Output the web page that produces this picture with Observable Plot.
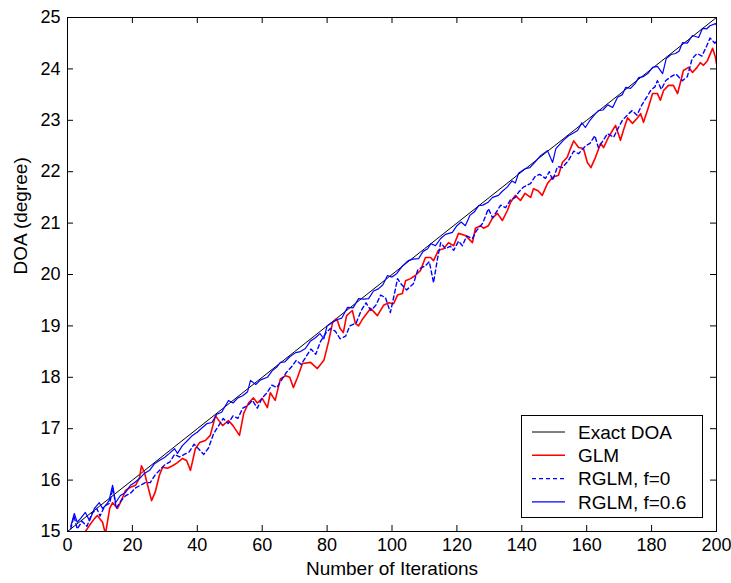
<!DOCTYPE html>
<html>
<head>
<meta charset="utf-8">
<script src="https://cdn.jsdelivr.net/npm/d3@7"></script>
<script src="https://cdn.jsdelivr.net/npm/@observablehq/plot@0.6"></script>
<style>
  html, body { margin: 0; padding: 0; background: #fff; }
  #chart { position: relative; width: 731px; height: 583px; font-family: "Liberation Sans", Arial, sans-serif; }
  #legend { position: absolute; left: 521px; top: 415px; }
</style>
</head>
<body>
<div id="chart"></div>
<script>
// ---------- data ----------
const xTicks = [0, 20, 40, 60, 80, 100, 120, 140, 160, 180, 200];
const yTicks = [15, 16, 17, 18, 19, 20, 21, 22, 23, 24, 25];

const seriesNames = ["Exact DOA", "GLM", "RGLM, f=0", "RGLM, f=0.6"];

const exactIter = [0, 10, 20, 30, 40, 50, 60, 70, 80, 90, 100, 110, 120, 130, 140, 150, 160, 170, 180, 190, 200];
const exactDoa  = [15, 15.5, 16, 16.5, 17, 17.5, 18, 18.5, 19, 19.5, 20, 20.5, 21, 21.5, 22, 22.5, 23, 23.5, 24, 24.5, 25];

const glmIter = [
  4, 5.5, 6.8, 8.3, 9.2, 10.8, 11.7, 13, 13.9, 15.4,
  16.3, 17.9, 19.4, 21, 22.2, 22.8, 23.7, 24.7, 25.9, 27,
  28.3, 29.3, 30.8, 32.4, 33.9, 35.4, 36.7, 37.9, 39.4, 40.7,
  42.5, 44, 45.6, 47.8, 49.6, 51, 53, 54.3, 55.8, 57.3,
  58.5, 60, 61.6, 62.5, 64, 65.6, 67.2, 68.5, 69.6, 70.9,
  72.4, 74.9, 77, 79, 80.4, 81.7, 83, 84, 85, 86,
  87.8, 88.7, 89.7, 91, 93.4, 95.5, 97.4, 99, 100.5, 101.7,
  103.2, 104.2, 105.7, 107.2, 108.8, 110.3, 111.9, 112.8, 114.3, 115.9,
  117.4, 119, 120.5, 122.6, 124.8, 125.7, 127.3, 128.2, 129.7, 131,
  132.5, 134, 135.6, 136.5, 138, 139.6, 141, 142.7, 143.6, 145,
  146.3, 147.9, 149.5, 151.3, 152.5, 154, 155, 156, 157.5, 159,
  160.2, 161.3, 162.7, 164.3, 165.2, 166.7, 168.9, 170.4, 171.3, 172.6,
  174.1, 175.7, 176.6, 177.5, 179, 180.3, 181.8, 182.7, 183.7, 185.2,
  186.7, 188, 188.9, 189.8, 191.4, 192.6, 194, 195, 196, 197.2,
  198.8, 199.7, 200];
const glmDoa = [
  14.85, 15.0, 15.12, 15.25, 15.31, 15.18, 14.95, 15.45, 15.56, 15.45,
  15.56, 15.8, 15.86, 15.9, 16.05, 16.28, 16.15, 15.9, 15.6, 15.76,
  16.09, 16.25, 16.23, 16.28, 16.34, 16.42, 16.38, 16.19, 16.61, 16.73,
  16.77, 16.87, 17.25, 17.06, 17.16, 17.06, 16.87, 17.3, 17.5, 17.6,
  17.5, 17.59, 17.41, 17.7, 17.55, 17.97, 18.03, 18.0, 17.8, 18.0,
  18.27, 18.29, 18.17, 18.33, 18.68, 19.07, 19.14, 18.95, 18.87, 19.2,
  19.3, 19.05, 19.0, 19.14, 19.34, 19.2, 19.4, 19.45, 19.43, 19.6,
  19.63, 19.88, 19.92, 19.98, 20.08, 20.33, 20.33, 20.27, 20.47, 20.5,
  20.62, 20.56, 20.8, 20.76, 20.62, 20.9, 20.95, 20.9, 20.95, 21.1,
  21.19, 21.05, 21.25, 21.4, 21.54, 21.44, 21.58, 21.5, 21.67, 21.63,
  21.54, 21.77, 21.89, 21.93, 22.18, 22.28, 22.45, 22.6, 22.47, 22.45,
  22.18, 22.08, 22.28, 22.55, 22.47, 22.67, 22.9, 22.61, 22.8, 23.05,
  22.94, 23.05, 23.13, 22.96, 23.25, 23.52, 23.52, 23.39, 23.58, 23.68,
  23.68, 23.52, 23.74, 23.97, 24.03, 23.93, 24.03, 24.12, 24.07, 24.16,
  24.4, 24.22, 24.1];

const rglm0Iter = [
  1, 2, 3, 4.5, 6, 7.5, 9, 10, 11.5, 13,
  14, 15, 16.5, 18, 19.5, 21, 22.5, 24, 25.5, 27,
  28.5, 30, 31.5, 33, 34.5, 36, 37.5, 39, 40.5, 42,
  43.5, 45, 46.5, 48, 49.5, 51, 52.5, 54, 55.5, 57,
  58.5, 60, 61.5, 63, 64.5, 66, 67.5, 69, 70.5, 72,
  73.5, 75, 76.5, 78, 79.5, 81, 82.5, 84, 85.7, 87,
  89, 90.5, 92, 93.5, 95, 96.5, 98, 99.5, 101, 101.7,
  103, 104.5, 106.6, 108, 110.3, 111.5, 112.8, 114, 115, 116.5,
  118, 119, 120.5, 121.7, 123, 124.8, 126, 128, 129.7, 131,
  132, 133.5, 135, 136.5, 138, 139, 140.5, 142.7, 144, 145.5,
  147.3, 148.5, 149.5, 151, 152.5, 154.4, 156, 157.5, 159.6, 161,
  162.5, 163.6, 165, 166.4, 168.3, 169.8, 171, 172.5, 174, 175.5,
  177, 178.5, 179.7, 181, 181.8, 183, 184.3, 186, 187.5, 189.5,
  191, 192.5, 194, 195.5, 197, 198, 199.5, 200];
const rglm0Doa = [
  15.05, 15.3, 15.05, 15.2, 15.1, 15.35, 15.45, 15.3, 15.5, 15.55,
  15.85, 15.45, 15.6, 15.7, 15.75, 15.85, 15.9, 15.95, 15.95, 16.1,
  16.2, 16.3, 16.35, 16.5, 16.45, 16.5, 16.55, 16.7, 16.6, 16.5,
  16.63, 16.9, 17.05, 17.2, 17.1, 17.25, 17.2, 17.4, 17.45, 17.55,
  17.4, 17.6, 17.7, 17.85, 17.8, 17.95, 18.1, 18.2, 18.33, 18.25,
  18.4, 18.55, 18.45, 18.7, 18.85, 18.95, 18.9, 18.75, 18.8, 19.0,
  19.06, 19.3, 19.45, 19.3, 19.4, 19.6, 19.55, 19.26, 19.7, 19.92,
  19.8, 19.7, 19.82, 20.1, 20.17, 20.25, 19.84, 20.3, 20.62, 20.5,
  20.55, 20.47, 20.65, 20.56, 20.75, 20.7, 20.85, 21.0, 21.28, 21.1,
  21.2, 21.35, 21.3, 21.45, 21.5, 21.6, 21.7, 21.77, 21.9, 21.95,
  21.87, 22.0, 21.83, 22.1, 22.08, 22.22, 22.4, 22.35, 22.5, 22.55,
  22.7, 22.47, 22.6, 22.74, 22.67, 22.86, 23.0, 23.1, 23.19, 23.1,
  23.3, 23.45, 23.58, 23.65, 23.77, 23.6, 23.77, 23.85, 23.9, 23.77,
  23.85, 24.2, 24.3, 24.25, 24.45, 24.6, 24.5, 24.55];

const rglm06Iter = [
  1, 2.1, 3, 4, 5.5, 6.8, 8.3, 9.8, 10.8, 11.7,
  12.8, 13.9, 14.8, 16.3, 17.9, 19.4, 20.6, 22.2, 23.7, 25.3,
  26.8, 28.3, 29.9, 31.4, 33, 33.9, 35.4, 37, 38.5, 40,
  41.5, 43, 44.5, 46, 47.5, 49.6, 51, 52.5, 54, 55.5,
  56.4, 58, 59.5, 61.6, 63, 64.5, 65.6, 67, 68.5, 70.3,
  71.8, 73.3, 74.8, 76.4, 77.8, 79, 80, 81.7, 83, 84.5,
  86.3, 88, 89.7, 91.2, 92.8, 94.3, 95.8, 97.2, 98.6, 100,
  101.5, 103, 105, 106.5, 108.2, 109.6, 111, 112, 113.4, 115,
  116.5, 118.6, 120, 121.3, 122.6, 124, 125.4, 126.7, 128, 129.5,
  131, 132.8, 134, 135.5, 137, 138, 139, 141.1, 142.5, 144,
  145.8, 147.9, 149.5, 150.5, 152.8, 154.4, 155.8, 157.2, 158.5, 159.6,
  161, 162.3, 163.6, 165, 166.5, 168, 169.5, 171, 172, 173.5,
  175, 176, 177.5, 179, 180.3, 181.8, 183.4, 184.5, 186, 187.4,
  188.5, 189.5, 191, 192.6, 194.5, 195.7, 197, 198, 199.7, 200];
const rglm06Doa = [
  15.1, 15.35, 15.18, 15.25, 15.37, 15.21, 15.45, 15.56, 15.45, 15.5,
  15.6, 15.9, 15.56, 15.7, 15.76, 15.9, 15.95, 16.03, 16.13, 16.19,
  16.32, 16.38, 16.44, 16.52, 16.61, 16.52, 16.67, 16.77, 16.87, 16.93,
  17.02, 17.1, 17.12, 17.28, 17.32, 17.55, 17.5, 17.6, 17.64, 17.72,
  17.94, 17.86, 17.95, 18.0, 18.12, 18.2, 18.29, 18.3, 18.4, 18.48,
  18.5, 18.56, 18.7, 18.77, 18.85, 18.75, 19.0, 19.07, 19.12, 19.15,
  19.36, 19.35, 19.53, 19.52, 19.53, 19.68, 19.72, 19.8, 19.98, 19.95,
  20.02, 20.15, 20.27, 20.3, 20.31, 20.45, 20.5, 20.6, 20.56, 20.7,
  20.78, 20.82, 20.95, 21.02, 20.95, 21.15, 21.22, 21.34, 21.35, 21.4,
  21.5, 21.54, 21.62, 21.7, 21.82, 21.78, 21.97, 22.06, 22.08, 22.18,
  22.31, 22.41, 22.18, 22.45, 22.61, 22.7, 22.75, 22.8, 22.95, 22.86,
  23.0, 23.1, 23.19, 23.2, 23.3, 23.25, 23.45, 23.5, 23.64, 23.62,
  23.72, 23.83, 23.85, 23.92, 24.03, 24.05, 23.91, 24.2, 24.28, 24.3,
  24.35, 24.51, 24.5, 24.65, 24.61, 24.79, 24.78, 24.84, 24.88, 24.85];

// ---------- styles / layout ----------
const seriesStyles = [
  {stroke: "#000000", width: 1,   dash: null},
  {stroke: "#ff0000", width: 1.6, dash: null},
  {stroke: "#0000ff", width: 1.4, dash: "4,3"},
  {stroke: "#0000ff", width: 1.2, dash: null}
];
const W = 731, H = 583;
const mL = 67, mR = 15, mT = 17, mB = 52;
const frameW = W - mL - mR, frameH = H - mT - mB;
const tickLen = 6;
const fontFam = '"Liberation Sans", Arial, Helvetica, sans-serif';

const pts = (xs, ys) => xs.map((x, i) => ({x, y: ys[i]}));
const lineOf = (xs, ys, s) => Plot.line(pts(xs, ys), {
  x: "x", y: "y", stroke: s.stroke, strokeWidth: s.width,
  strokeDasharray: s.dash ?? undefined, clip: true, curve: "linear"
});

const chart = Plot.plot({
  width: W, height: H,
  marginLeft: mL, marginRight: mR, marginTop: mT, marginBottom: mB,
  style: {fontFamily: fontFam, fontSize: "18px", background: "#ffffff", color: "#000000", overflow: "visible"},
  x: {domain: [0, 200], label: null},
  y: {domain: [15, 25], label: null},
  marks: [
    lineOf(exactIter, exactDoa, seriesStyles[0]),
    lineOf(glmIter, glmDoa, seriesStyles[1]),
    lineOf(rglm0Iter, rglm0Doa, seriesStyles[2]),
    lineOf(rglm06Iter, rglm06Doa, seriesStyles[3]),
    Plot.frame({stroke: "#000000", strokeWidth: 1}),
    // inward ticks on all four sides
    Plot.tickX(xTicks, {x: d => d, stroke: "#000", insetTop: frameH - tickLen}),
    Plot.tickX(xTicks, {x: d => d, stroke: "#000", insetBottom: frameH - tickLen}),
    Plot.tickY(yTicks, {y: d => d, stroke: "#000", insetRight: frameW - tickLen}),
    Plot.tickY(yTicks, {y: d => d, stroke: "#000", insetLeft: frameW - tickLen}),
    Plot.axisX(xTicks, {tickSize: 0, tickPadding: 7, fontSize: 18, label: null, tickFormat: d => String(d)}),
    Plot.axisY(yTicks, {tickSize: 0, tickPadding: 7, fontSize: 18, label: null, tickFormat: d => String(d)}),
    Plot.text(["Number of Iterations"], {text: d => d, frameAnchor: "bottom", dy: 43, fontSize: 19, fill: "#000"}),
    Plot.text(["DOA (degree)"], {text: d => d, frameAnchor: "left", dx: -47, rotate: -90, fontSize: 19, fill: "#000"})
  ]
});

const root = document.getElementById("chart");
root.appendChild(chart);

// ---------- legend (overlay inside plot area) ----------
const legW = 182, legH = 103, rowY0 = 17, rowStep = 23.3;
const leg = d3.select(root).append("svg")
  .attr("id", "legend")
  .attr("width", legW).attr("height", legH);
leg.append("rect")
  .attr("x", 0.5).attr("y", 0.5).attr("width", legW - 1).attr("height", legH - 1)
  .attr("fill", "#fff").attr("stroke", "#000").attr("stroke-width", 1);
const rows = leg.selectAll("g.row").data(seriesNames).join("g")
  .attr("transform", (d, i) => `translate(0,${rowY0 + i * rowStep})`);
rows.append("line")
  .attr("x1", 11).attr("x2", 44).attr("y1", 0).attr("y2", 0)
  .attr("stroke", (d, i) => seriesStyles[i].stroke)
  .attr("stroke-width", (d, i) => Math.min(seriesStyles[i].width, 1.4))
  .attr("stroke-dasharray", (d, i) => seriesStyles[i].dash);
rows.append("text")
  .attr("x", 57).attr("y", 0).attr("dy", "0.35em")
  .attr("font-family", fontFam).attr("font-size", 19)
  .attr("fill", "#000")
  .text(d => d);
</script>
</body>
</html>
